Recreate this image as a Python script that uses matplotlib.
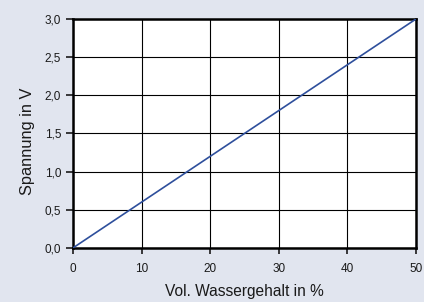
import matplotlib
matplotlib.use("Agg")
import matplotlib.pyplot as plt

x_vals = [0, 50]
y_vals = [0.0, 3.0]
x_ticks = [0, 10, 20, 30, 40, 50]
y_ticks = [0.0, 0.5, 1.0, 1.5, 2.0, 2.5, 3.0]
y_tick_labels = ["0,0", "0,5", "1,0", "1,5", "2,0", "2,5", "3,0"]

plt.rcParams['font.family'] = ['Liberation Sans', 'DejaVu Sans']
bg = '#e1e5ef'
fig = plt.figure(figsize=(4.24, 3.02), dpi=100, facecolor=bg)
ax = fig.add_axes([0.172, 0.179, 0.809, 0.758])
ax.set_facecolor('white')
ax.plot(x_vals, y_vals, color='#2e4f9c', lw=1.2, zorder=3)
ax.set_xlim(0, 50)
ax.set_ylim(0, 3.0)
ax.set_xticks(x_ticks)
ax.set_yticks(y_ticks)
ax.set_yticklabels(y_tick_labels)
ax.grid(True, color='black', lw=0.8)
ax.tick_params(axis='x', direction='out', length=4.5, width=1.2, labelsize=8.5, colors='#1a1a1a', pad=6.5)
ax.tick_params(axis='y', direction='out', length=5, width=1.2, labelsize=8.5, colors='#1a1a1a', pad=3.5)
for side in ['left', 'bottom', 'top', 'right']:
    ax.spines[side].set_linewidth(1.8)
ax.set_xlabel('Vol. Wassergehalt in %', fontsize=11.2, labelpad=6, color='#1a1a1a')
ax.set_ylabel('Spannung in V', fontsize=11.8, color='#1a1a1a')
ax.yaxis.set_label_coords(-0.112, 0.465)
fig.savefig('out.png', dpi=100, facecolor=bg)
